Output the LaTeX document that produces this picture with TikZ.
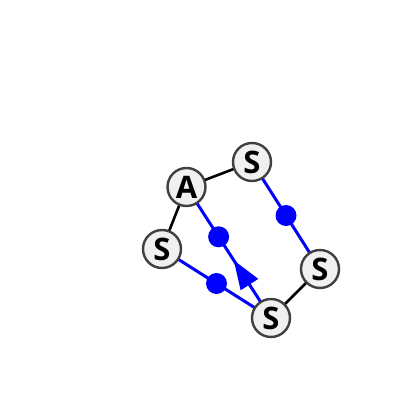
\documentclass[tikz,border=0pt]{standalone}
\usepackage{fontspec}
\setmainfont{Open Sans}
\usetikzlibrary{calc}
\begin{document}
\begin{tikzpicture}[x=1pt,y=-1pt,
  atom/.style={circle,draw=black!75,line width=2.4pt,fill=black!6,minimum size=38pt,inner sep=0pt,font=\fontsize{31}{31}\selectfont\bfseries},
  bond/.style={line width=2.6pt,black},
  bbond/.style={line width=3pt,blue},
  dot/.style={circle,fill=blue,inner sep=0pt,minimum size=21pt}]
\useasboundingbox (0,0) rectangle (400,400);
\fill[white] (0,0) rectangle (400,400);
\coordinate (pA) at (186.5,187);
\coordinate (pS1) at (252,162);
\coordinate (pS2) at (162,249);
\coordinate (pS3) at (320,269);
\coordinate (pS4) at (271,318);
\draw[bond] (pA) -- (pS1);
\draw[bond] (pA) -- (pS2);
\draw[bond] (pS3) -- (pS4);
\draw[bbond] (pS1) -- (pS3);
\draw[bbond] (pA) -- (pS4);
\draw[bbond] (pS2) -- (pS4);
\node[dot] (d1) at ($(pS1)!0.5!(pS3)$) {};
\node[dot] (d2) at ($(pA)!0.38!(pS4)$) {};
\node[dot] (d3) at ($(pS2)!0.5!(pS4)$) {};
\coordinate (tip) at ($(pA)!0.56!(pS4)$);
\coordinate (bas) at ($(pA)!0.745!(pS4)$);
\fill[blue] (tip) -- ($(bas)!10.5pt!90:(tip)$) -- ($(bas)!10.5pt!-90:(tip)$) -- cycle;
\node[atom] (A) at (pA) {A};
\node[atom] (S1) at (pS1) {S};
\node[atom] (S2) at (pS2) {S};
\node[atom] (S3) at (pS3) {S};
\node[atom] (S4) at (pS4) {S};
\end{tikzpicture}
\end{document}
